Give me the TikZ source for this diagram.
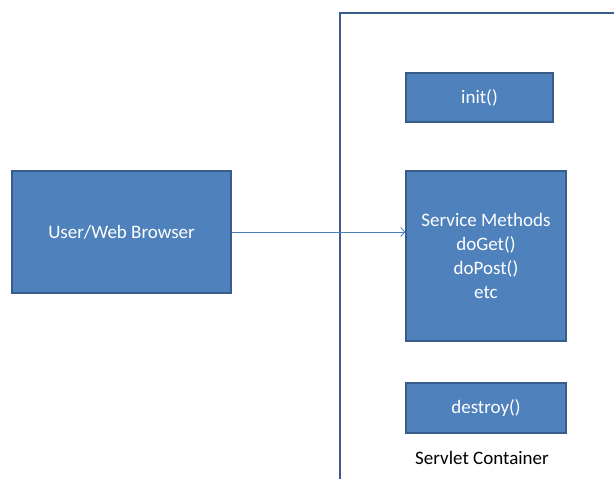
\documentclass[tikz,border=0pt]{standalone}
\usepackage{fontspec}
\setmainfont{Carlito}
\usetikzlibrary{positioning, calc, arrows.meta}
\definecolor{boxfill}{HTML}{4F81BD}
\definecolor{boxline}{HTML}{385D8A}
\definecolor{arrowline}{HTML}{4A7EBB}
\tikzset{
    methodbox/.style={draw=boxline, fill=boxfill, line width=1.5pt, text=white,
        inner sep=0pt, align=center, font=\fontsize{19}{24}\selectfont},
}

\begin{document}
\begin{tikzpicture}[x=1pt, y=-1pt]
    \useasboundingbox (0,0) rectangle (614,479);
    % servlet container frame
    \coordinate (cbot) at (340,479);
    \coordinate (ctop) at (340,13);
    \coordinate (cright) at (614,13);
    \draw[boxline, line width=2pt] (cbot) -- (ctop) -- (cright);
    \node[methodbox, minimum width=219pt, minimum height=122pt] (user) at (121.5,232) {User/Web Browser};
    \node[methodbox, minimum width=147pt, minimum height=49pt] (init) at (479.5,97.5) {init()};
    \node[methodbox, minimum width=160pt, minimum height=170pt] (service) at (486,256)
        {Service Methods\\doGet()\\doPost()\\etc};
    \node[methodbox, minimum width=160pt, minimum height=50pt] (destroy) at (486,408) {destroy()};
    \node[font=\fontsize{19}{24}\selectfont] (container) at (482,458) {Servlet Container};
    \draw[arrowline, line width=0.8pt, -{Straight Barb[length=4pt, width=9pt]}]
        (user.east) -- (user.east -| service.west);
\end{tikzpicture}
\end{document}
